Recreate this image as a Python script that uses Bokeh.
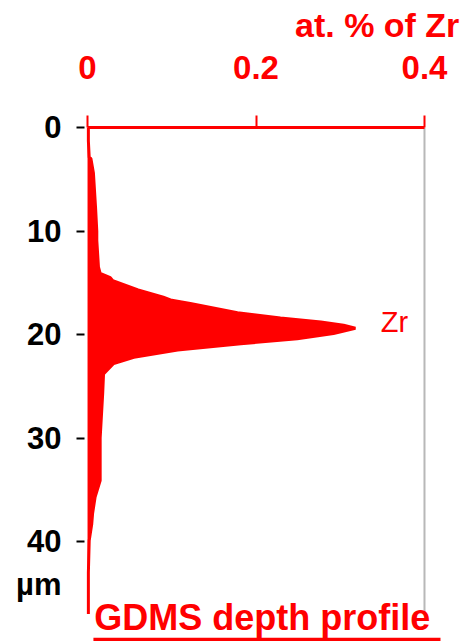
from bokeh.plotting import figure
from bokeh.layouts import column
from bokeh.models import Range1d, FixedTicker, Label, BoxAnnotation
from bokeh.embed import file_html
from bokeh.resources import INLINE

# ---- data ----
depth_um = [0, 1.3, 2.9, 3.0, 4.4, 7.7, 10.0, 10.9, 13.5, 14.1, 14.5, 14.8, 15.7,
            16.4, 16.7, 17.0, 17.9, 18.4, 18.8, 19.1, 19.4, 19.9, 20.4, 20.9, 21.5,
            22.2, 22.8, 23.8, 25.7, 30.0, 34.1, 35.7, 37.3, 38.3, 39.9, 43.0, 47.0]
zr_at_pct = [0.001, 0.001, 0.002, 0.004, 0.007, 0.0095, 0.011, 0.011, 0.013, 0.015,
             0.027, 0.03, 0.06, 0.09, 0.10, 0.122, 0.178, 0.229, 0.277, 0.304, 0.318,
             0.292, 0.249, 0.182, 0.107, 0.055, 0.031, 0.019, 0.018, 0.015, 0.015,
             0.009, 0.006, 0.005, 0.002, 0.001, 0.001]
x_ticks = [0, 0.2, 0.4]
x_tick_labels = ["0", "0.2", "0.4"]
y_ticks = [0, 10, 20, 30, 40]
y_unit_pos = 44.2          # where the "µm" unit sits on the depth axis
y_unit_label = "µm"
x_title = "at. % of Zr"
series_name = "Zr"
caption = "GDMS depth profile"

RED = "#ff0000"
FONT = "Liberation Sans"
W, H_TOP, H_MAIN = 472, 44, 597

# ---- heading strip ----
head = figure(width=W, height=H_TOP, output_backend="svg", toolbar_location=None,
              x_range=Range1d(0, W), y_range=Range1d(H_TOP, 0),
              x_axis_type=None, y_axis_type=None,
              min_border_left=0, min_border_right=0, min_border_top=0,
              min_border_bottom=0)
head.outline_line_color = None
head.xgrid.visible = False
head.ygrid.visible = False
head.background_fill_color = "white"
head.border_fill_color = "white"
head.add_layout(Label(x=456, y=24, text=x_title, text_align="right",
                      text_baseline="alphabetic", text_color=RED,
                      text_font=FONT, text_font_style="bold",
                      text_font_size="34px"))

# ---- main chart ----
p = figure(width=W, height=H_MAIN, output_backend="svg", toolbar_location=None,
           x_range=Range1d(-0.0036, 0.457), y_range=Range1d(49.66, 0),
           x_axis_location="above",
           min_border_left=84, min_border_right=0, min_border_top=127 - H_TOP,
           min_border_bottom=0)
p.outline_line_color = None
p.xgrid.visible = False
p.ygrid.visible = False
p.background_fill_color = "white"
p.border_fill_color = "white"

# profile
p.harea(y=depth_um, x1=0, x2=zr_at_pct, fill_color=RED)
p.line(x=zr_at_pct, y=depth_um, line_color=RED, line_width=3)

# right grey border of the plot box
p.line(x=[x_ticks[-1], x_ticks[-1]], y=[y_ticks[0], depth_um[-1]],
       line_color="#b8b8b8", line_width=2)

# top axis
xa = p.xaxis[0]
xa.bounds = (x_ticks[0], x_ticks[-1])
xa.ticker = FixedTicker(ticks=x_ticks)
xa.major_label_overrides = {t: s for t, s in zip(x_ticks, x_tick_labels)}
xa.axis_line_color = RED
xa.axis_line_width = 3
xa.major_tick_line_color = RED
xa.major_tick_line_width = 2
xa.major_tick_out = 12
xa.major_tick_in = 0
xa.minor_tick_line_color = None
xa.major_label_text_color = RED
xa.major_label_text_font = FONT
xa.major_label_text_font_style = "bold"
xa.major_label_text_font_size = "33px"
xa.major_label_standoff = 37

# left axis: visible tick marks drawn as minor ticks, unit as an extra label
ya = p.yaxis[0]
ya.ticker = FixedTicker(ticks=y_ticks + [y_unit_pos], minor_ticks=y_ticks)
ya.major_label_overrides = {y_unit_pos: y_unit_label}
ya.axis_line_color = None
ya.major_tick_line_color = None
ya.major_tick_out = 8
ya.major_tick_in = 0
ya.minor_tick_line_color = "black"
ya.minor_tick_line_width = 2
ya.minor_tick_out = 8
ya.minor_tick_in = 0
ya.major_label_text_color = "black"
ya.major_label_text_font = FONT
ya.major_label_text_font_style = "bold"
ya.major_label_text_font_size = "31px"
ya.major_label_standoff = 15

# series label
p.add_layout(Label(x=0.348, y=18.75, text=series_name, text_align="left",
                   text_baseline="alphabetic", text_color=RED,
                   text_font=FONT, text_font_size="29px"))
# caption with underline
p.add_layout(Label(x=0.008, y=47.35, text=caption, text_align="left",
                   text_baseline="alphabetic", text_color=RED,
                   text_font=FONT, text_font_style="bold",
                   text_font_size="36px"))
p.add_layout(BoxAnnotation(left=0.007, right=0.419, top=49.3, bottom=49.66,
                           fill_color=RED, fill_alpha=1, line_color=None))

layout = column(head, p, spacing=0)
open("out.html", "w").write(file_html(layout, INLINE))
